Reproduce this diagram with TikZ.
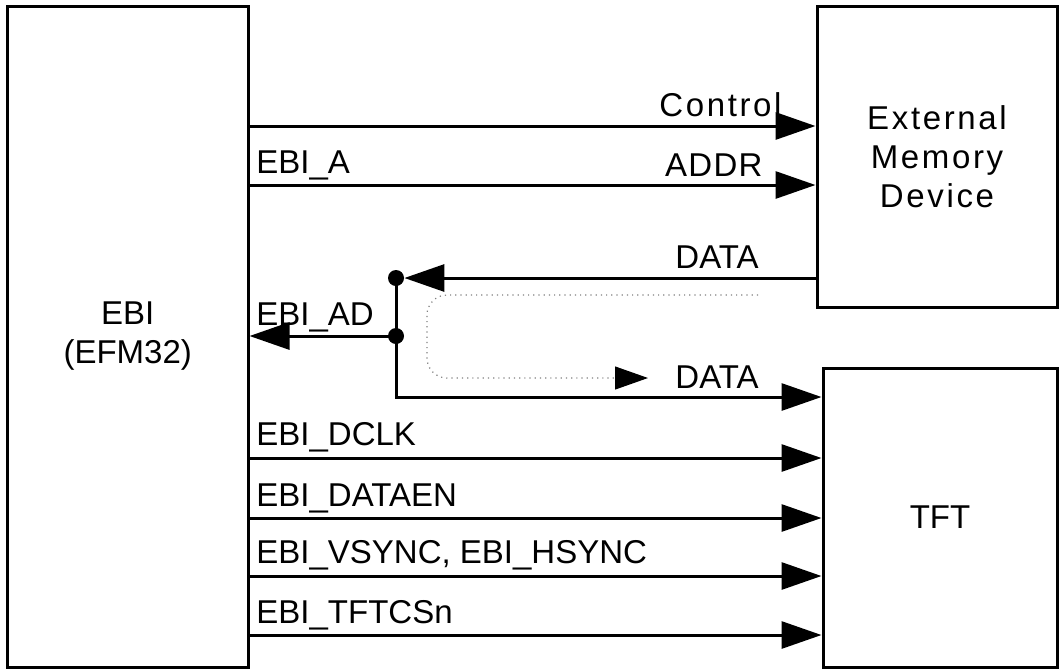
\documentclass[tikz,border=0pt]{standalone}
\usepackage{fontspec}
\setmainfont{Liberation Sans}
\usetikzlibrary{arrows.meta,positioning}
\tikzset{
myBox/.style={
	draw, rectangle, line width=1.5pt, align=center,
	inner sep=0pt, font=\fontsize{16.5}{19.5}\selectfont
}
, myWide/.style={
	font=\fontsize{16.5}{19.5}\selectfont\addfontfeature{LetterSpace=8}
}
, myLabel/.style={
	inner sep=0pt, font=\fontsize{16.5}{19.5}\selectfont
}
, myDot/.style={
	circle, fill, inner sep=0pt, minimum size=8pt
}
% link
, mySig/.style={-{Triangle[length=20pt,width=13.5pt]},line width=1.5pt}
, myFlow/.style={-{Triangle[length=16.5pt,width=11.5pt,color=black]},dotted,gray,line width=0.6pt,rounded corners=10pt}
}

\begin{document}
\begin{tikzpicture}[x=0.5pt,y=-0.5pt]
	\useasboundingbox (0,0) rectangle (1059,671);
	% blocks
	\node[myBox, minimum width=120.25pt, minimum height=330.5pt] (EBI) at (127.75,336.5) {EBI\\(EFM32)};
	\node[myBox, myWide, minimum width=120pt, minimum height=150.5pt] (ExtMem) at (937,156.5) {External\\Memory\\Device};
	\node[myBox, minimum width=117pt, minimum height=149.5pt] (TFT) at (940,517.5) {TFT};
	% junctions
	\node[myDot] (DataTop) at (396,278) {};
	\node[myDot] (DataMid) at (396,336) {};
	\coordinate (DataBend) at (396,397);
	\coordinate (FlowStart) at (758,295);
	\coordinate (FlowEnd) at (648,378);

	% links
	\draw [mySig] (EBI.east |- 0,126) -- (ExtMem.west |- 0,126);
	\draw [mySig] (EBI.east |- 0,185) -- (ExtMem.west |- 0,185);
	\draw [mySig] (ExtMem.west |- DataTop) -- (DataTop);
	\draw [line width=1.5pt] (DataTop.center) -- (DataMid.center);
	\draw [mySig] (DataMid.center) -- (EBI.east |- DataMid);
	\draw [mySig] (DataMid.center) -- (DataBend) -- (TFT.west |- DataBend);
	\draw [mySig] (EBI.east |- 0,458) -- (TFT.west |- 0,458);
	\draw [mySig] (EBI.east |- 0,518) -- (TFT.west |- 0,518);
	\draw [mySig] (EBI.east |- 0,576) -- (TFT.west |- 0,576);
	\draw [mySig] (EBI.east |- 0,635) -- (TFT.west |- 0,635);
	% data flow
	\draw [myFlow] (FlowStart) -- (427,295) -- (427,378) -- (FlowEnd);

	% labels
	\node[myLabel, anchor=base east] (LblCtrl) at (782,116) {\addfontfeature{LetterSpace=8}Control};
	\node[myLabel, anchor=base east] (LblAddr) at (763,176) {\addfontfeature{LetterSpace=4}ADDR};
	\node[myLabel, anchor=base east] (LblDataIn) at (759,268) {DATA};
	\node[myLabel, anchor=base east] (LblDataOut) at (759,388) {DATA};
	\node[myLabel, anchor=base west] (LblA) at (256,173) {EBI\_A};
	\node[myLabel, anchor=base west] (LblAD) at (256,325) {EBI\_AD};
	\node[myLabel, anchor=base west] (LblDclk) at (256,445) {EBI\_DCLK};
	\node[myLabel, anchor=base west] (LblDataEn) at (256,506) {EBI\_DATAEN};
	\node[myLabel, anchor=base west] (LblSync) at (256,563) {EBI\_VSYNC, EBI\_HSYNC};
	\node[myLabel, anchor=base west] (LblCs) at (256,623) {EBI\_TFTCSn};
\end{tikzpicture}
\end{document}
